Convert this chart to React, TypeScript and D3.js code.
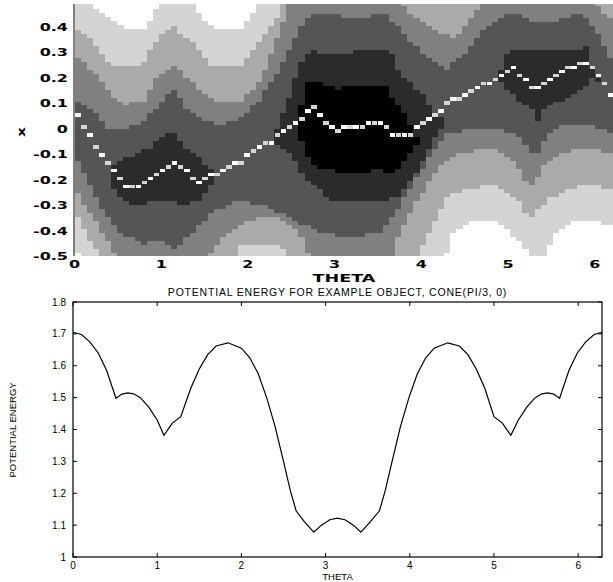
import React from "react";
import * as d3 from "d3";

const TWO_PI = Math.PI * 2;

// ---------- bottom chart data ----------
const PE_THETA = [0, 0.1, 0.2, 0.3, 0.4, 0.51, 0.58, 0.65, 0.72, 0.8, 0.9, 1.0, 1.08, 1.18, 1.28, 1.4, 1.5, 1.6, 1.7, 1.84, 2.0, 2.1, 2.2, 2.3, 2.4, 2.5, 2.58, 2.65, 2.75, 2.86, 2.95, 3.05, 3.14, 3.23, 3.33, 3.42, 3.53, 3.64, 3.71, 3.79, 3.89, 3.99, 4.09, 4.19, 4.29, 4.45, 4.59, 4.69, 4.79, 4.89, 5.0, 5.1, 5.2, 5.29, 5.39, 5.49, 5.57, 5.64, 5.71, 5.78, 5.89, 5.99, 6.09, 6.19, 6.283];
const PE_VALUE = [1.705, 1.698, 1.675, 1.64, 1.585, 1.498, 1.511, 1.515, 1.512, 1.5, 1.47, 1.43, 1.382, 1.42, 1.44, 1.53, 1.59, 1.635, 1.662, 1.672, 1.655, 1.625, 1.575, 1.5, 1.41, 1.3, 1.21, 1.145, 1.11, 1.078, 1.1, 1.117, 1.122, 1.117, 1.1, 1.078, 1.11, 1.145, 1.21, 1.3, 1.41, 1.5, 1.575, 1.625, 1.655, 1.672, 1.662, 1.635, 1.59, 1.53, 1.44, 1.42, 1.382, 1.43, 1.47, 1.5, 1.512, 1.515, 1.511, 1.498, 1.585, 1.64, 1.675, 1.698, 1.705];
const THETA_TICKS = [0, 1, 2, 3, 4, 5, 6];
const PE_TICKS = [1, 1.1, 1.2, 1.3, 1.4, 1.5, 1.6, 1.7, 1.8];
const PE_TICK_LABELS = ["1", "1.1", "1.2", "1.3", "1.4", "1.5", "1.6", "1.7", "1.8"];

// ---------- top chart data ----------
const X_TICKS = [0.4, 0.3, 0.2, 0.1, 0, -0.1, -0.2, -0.3, -0.4, -0.5];
const X_TICK_LABELS = ["0.4", "0.3", "0.2", "0.1", "0", "-0.1", "-0.2", "-0.3", "-0.4", "-0.5"];
const GRID_COLS = 90; // cells across theta
const GRID_ROWS = 64; // cells across x

// minimum-energy path: x of the marked cell in each theta column (0..89)
const PATH_X = [
  0.059, 0.012, -0.028, -0.067, -0.094, -0.126, -0.165, -0.197, -0.228, -0.228,
  -0.22, -0.212, -0.197, -0.185, -0.165, -0.145, -0.13, -0.145, -0.165, -0.189,
  -0.212, -0.193, -0.185, -0.173, -0.157, -0.145, -0.138, -0.126, -0.106, -0.09,
  -0.075, -0.059, -0.047, -0.028, -0.008, 0.004, 0.02, 0.039, 0.063, 0.079,
  0.051, 0.024, 0.004, -0.008, 0.004, 0.012, 0.012, 0.012, 0.02, 0.031,
  0.024, 0.004, -0.016, -0.028, -0.028, -0.016, 0.004, 0.024, 0.039, 0.059,
  0.075, 0.094, 0.114, 0.122, 0.138, 0.149, 0.157, 0.173, 0.185, 0.2,
  0.208, 0.22, 0.236, 0.212, 0.189, 0.169, 0.161, 0.181, 0.196, 0.208,
  0.22, 0.236, 0.248, 0.255, 0.255, 0.24, 0.212, 0.173, 0.138, 0.118,
];

// gray band regions: [theta, x] boundary points, level <= k
const R5_UP = [[0, 0.6], [0.17, 0.6], [0.18, 0.49], [0.3, 0.455], [0.45, 0.416], [0.6, 0.39], [0.8, 0.39], [0.9, 0.44], [0.97, 0.49], [0.98, 0.6], [1.36, 0.6], [1.37, 0.49], [1.5, 0.42], [1.62, 0.39], [1.9, 0.39], [2.0, 0.43], [2.12, 0.49], [2.13, 0.6], [6.3, 0.6]];
const R5_LO = [[0, -0.46], [0.05, -0.5], [0.06, -0.6], [4.2, -0.6], [4.28, -0.5], [4.33, -0.43], [4.41, -0.39], [4.48, -0.373], [4.56, -0.361], [4.9, -0.361], [4.99, -0.389], [5.1, -0.428], [5.2, -0.468], [5.22, -0.6], [5.44, -0.6], [5.46, -0.468], [5.57, -0.4], [5.68, -0.373], [5.8, -0.361], [6.06, -0.361], [6.14, -0.373], [6.21, -0.389], [6.3, -0.4]];
const R4_UP = [[0, 0.39], [0.15, 0.36], [0.3, 0.31], [0.42, 0.255], [0.52, 0.25], [0.76, 0.25], [0.84, 0.28], [0.9, 0.33], [1.02, 0.37], [1.14, 0.41], [1.25, 0.37], [1.37, 0.346], [1.48, 0.295], [1.56, 0.255], [1.64, 0.25], [1.91, 0.25], [1.99, 0.28], [2.1, 0.32], [2.17, 0.36], [2.25, 0.395], [2.37, 0.45], [2.4, 0.6], [6.3, 0.6]];
const R4_LO = [[0, -0.32], [0.15, -0.42], [0.3, -0.5], [0.31, -0.6], [1.85, -0.6], [1.87, -0.46], [2.0, -0.45], [2.3, -0.45], [2.45, -0.47], [2.46, -0.6], [3.9, -0.6], [3.95, -0.5], [4.1, -0.4], [4.2, -0.32], [4.33, -0.255], [4.56, -0.23], [4.71, -0.225], [4.9, -0.225], [5.1, -0.27], [5.2, -0.33], [5.24, -0.36], [5.3, -0.33], [5.45, -0.28], [5.68, -0.23], [5.86, -0.225], [6.06, -0.225], [6.3, -0.245]];
const R3_UP = [[0, 0.29], [0.15, 0.25], [0.3, 0.2], [0.45, 0.13], [0.6, 0.1], [0.8, 0.11], [0.95, 0.2], [1.14, 0.26], [1.3, 0.2], [1.5, 0.14], [1.65, 0.11], [1.9, 0.11], [2.05, 0.15], [2.15, 0.2], [2.25, 0.28], [2.35, 0.37], [2.45, 0.46], [2.5, 0.6], [3.7, 0.6], [3.75, 0.49], [4.0, 0.43], [4.2, 0.38], [4.4, 0.36], [4.55, 0.42], [4.7, 0.49], [4.72, 0.6], [6.0, 0.6], [6.02, 0.49], [6.15, 0.44], [6.3, 0.4]];
const R3_LO = [[0, -0.24], [0.2, -0.34], [0.4, -0.45], [0.5, -0.5], [0.51, -0.6], [1.52, -0.6], [1.53, -0.5], [1.7, -0.43], [1.83, -0.39], [2.14, -0.34], [2.4, -0.35], [2.6, -0.4], [2.7, -0.5], [2.71, -0.6], [3.6, -0.6], [3.7, -0.45], [3.85, -0.35], [4.0, -0.25], [4.2, -0.15], [4.33, -0.11], [4.6, -0.086], [4.9, -0.08], [5.1, -0.14], [5.25, -0.23], [5.4, -0.15], [5.6, -0.1], [5.8, -0.08], [6.03, -0.08], [6.18, -0.1], [6.3, -0.11]];
const R2_UP = [[0, 0.12], [0.2, 0.08], [0.4, 0.0], [0.6, 0.0], [0.8, 0.03], [1.0, 0.1], [1.14, 0.16], [1.3, 0.08], [1.5, 0.03], [1.7, 0.02], [1.9, 0.04], [2.1, 0.1], [2.3, 0.2], [2.5, 0.33], [2.7, 0.45], [2.9, 0.45], [3.2, 0.44], [3.6, 0.45], [3.75, 0.4], [3.9, 0.34], [4.1, 0.27], [4.3, 0.24], [4.5, 0.3], [4.7, 0.38], [4.9, 0.44], [5.05, 0.46], [5.3, 0.42], [5.6, 0.43], [5.85, 0.46], [6.0, 0.4], [6.15, 0.3], [6.3, 0.2]];
const R2_LO = [[0, -0.1], [0.3, -0.3], [0.5, -0.4], [0.8, -0.45], [1.0, -0.43], [1.15, -0.47], [1.3, -0.42], [1.6, -0.32], [1.9, -0.28], [2.2, -0.3], [2.5, -0.35], [2.8, -0.4], [3.1, -0.42], [3.5, -0.41], [3.7, -0.33], [3.9, -0.22], [4.1, -0.1], [4.3, -0.02], [4.6, 0.0], [4.9, 0.0], [5.1, -0.02], [5.3, -0.114], [5.5, 0.0], [5.8, 0.02], [6.1, 0.0], [6.3, -0.05]];
const R1A_UP = [[0.4, -0.17], [0.5, -0.12], [0.7, -0.1], [0.9, -0.07], [1.0, -0.03], [1.14, 0.0], [1.2, -0.04], [1.3, -0.08], [1.45, -0.12], [1.6, -0.16]];
const R1A_LO = [[0.4, -0.2], [0.5, -0.26], [0.7, -0.3], [0.9, -0.28], [1.14, -0.28], [1.3, -0.3], [1.45, -0.27], [1.6, -0.2]];
const R1B_UP = [[2.3, -0.02], [2.4, 0.05], [2.5, 0.15], [2.6, 0.25], [2.7, 0.31], [2.9, 0.3], [3.1, 0.29], [3.3, 0.32], [3.65, 0.32], [3.7, 0.24], [3.85, 0.19], [4.0, 0.14], [4.15, 0.07], [4.3, 0.03]];
const R1B_LO = [[2.3, -0.05], [2.5, -0.1], [2.65, -0.2], [2.8, -0.23], [2.95, -0.28], [3.4, -0.28], [3.6, -0.28], [3.75, -0.26], [3.9, -0.2], [4.05, -0.1], [4.2, -0.01], [4.3, 0.03]];
const R1C_UP = [[4.85, 0.2], [4.9, 0.22], [5.02, 0.314], [5.37, 0.314], [5.6, 0.306], [5.87, 0.318], [5.89, 0.346], [5.98, 0.24], [6.05, 0.19]];
const R1C_LO = [[4.85, 0.2], [4.9, 0.19], [5.1, 0.12], [5.29, 0.07], [5.34, 0.024], [5.41, 0.083], [5.6, 0.11], [5.87, 0.16], [5.98, 0.2], [6.05, 0.19]];
const R0_UP = [[2.6, 0.0], [2.62, 0.11], [2.65, 0.17], [2.72, 0.2], [2.85, 0.18], [3.0, 0.16], [3.2, 0.17], [3.6, 0.17], [3.68, 0.11], [3.8, 0.07], [3.9, 0.0], [3.97, -0.05]];
const R0_LO = [[2.6, 0.0], [2.62, -0.05], [2.7, -0.12], [2.8, -0.15], [3.0, -0.165], [3.4, -0.165], [3.5, -0.15], [3.7, -0.18], [3.8, -0.12], [3.97, -0.05]];

const BAND_COLORS = ["#000000", "#2b2b2b", "#555555", "#808080", "#aaaaaa", "#d4d4d4", "#ffffff"];
const PATH_COLORS = ["#ffffff", "#d6d6d6"];

const REGIONS = [
  { level: 0, up: R0_UP, lo: R0_LO },
  { level: 1, up: R1A_UP, lo: R1A_LO },
  { level: 1, up: R1B_UP, lo: R1B_LO },
  { level: 1, up: R1C_UP, lo: R1C_LO },
  { level: 2, up: R2_UP, lo: R2_LO },
  { level: 3, up: R3_UP, lo: R3_LO },
  { level: 4, up: R4_UP, lo: R4_LO },
  { level: 5, up: R5_UP, lo: R5_LO },
];

const W = 613;
const H = 582;

export default function App() {
  // top panel scales
  const tx = d3.scaleLinear().domain([0, TWO_PI]).range([74.5, 619.3]);
  const ty = d3.scaleLinear().domain([-0.5, 0.5]).range([256, 1.5]);
  // bottom panel scales
  const bx = d3.scaleLinear().domain([0, TWO_PI]).range([73, 602]);
  const by = d3.scaleLinear().domain([1, 1.8]).range([557, 302]);

  const dTheta = TWO_PI / GRID_COLS;
  const dX = 1 / GRID_ROWS;

  const polys = REGIONS.map((r) => ({
    level: r.level,
    poly: r.up.concat(r.lo.slice().reverse()).map((p) => [p[0], p[1]] as [number, number]),
  }));

  const cells: { c: number; r: number; level: number }[] = [];
  for (let c = 0; c < GRID_COLS; c++) {
    const th = (c + 0.5) * dTheta;
    for (let r = 0; r < GRID_ROWS; r++) {
      const xv = -0.5 + (r + 0.5) * dX;
      let level = 6;
      for (const p of polys) {
        if (p.level < level && d3.polygonContains(p.poly, [th, xv])) level = p.level;
      }
      if (level < 6) cells.push({ c, r, level });
    }
  }

  const cellRect = (c: number, r: number) => {
    const x0 = tx(c * dTheta);
    const x1 = tx((c + 1) * dTheta);
    const y0 = ty(-0.5 + (r + 1) * dX);
    const y1 = ty(-0.5 + r * dX);
    return { x: x0, y: y0, w: x1 - x0, h: y1 - y0 };
  };

  const peLine = d3
    .line<number>()
    .x((_, i) => bx(PE_THETA[i]))
    .y((d) => by(d));

  const boldFont = "'DejaVu Sans', Verdana, sans-serif";
  const sansFont = "'Liberation Sans', Arial, Helvetica, sans-serif";

  return (
    <svg width={W} height={H} style={{ position: "absolute", left: 0, top: 0, background: "#fff" }}>
      <defs>
        <clipPath id="topClip">
          <rect x={74} y={4} width={W - 74} height={252} />
        </clipPath>
      </defs>
      <rect x={0} y={0} width={W} height={H} fill="#fff" />

      {/* ---- top contour panel ---- */}
      <g clipPath="url(#topClip)" shapeRendering="crispEdges">
        {cells.map((cell, i) => {
          const b = cellRect(cell.c, cell.r);
          return (
            <rect
              key={i}
              x={b.x}
              y={b.y}
              width={b.w + 0.6}
              height={b.h + 0.6}
              fill={BAND_COLORS[cell.level]}
            />
          );
        })}
        {PATH_X.map((xv, c) => {
          const r = Math.floor((xv + 0.5) / dX);
          const b = cellRect(c, r);
          return (
            <rect
              key={"p" + c}
              x={b.x + 0.5}
              y={b.y + 0.5}
              width={b.w - 0.5}
              height={b.h - 0.5}
              fill={PATH_COLORS[c % 2]}
            />
          );
        })}
      </g>
      <line x1={74} x2={74} y1={4} y2={256} stroke="#000" strokeWidth={1} />
      {X_TICKS.map((v, i) => (
        <text
          key={"yt" + i}
          transform={`translate(68,${ty(v) + 4}) scale(1.6,1)`}
          textAnchor="end"
          fontFamily={boldFont}
          fontWeight="bold"
          fontSize={10}
          fill="#000"
        >
          {X_TICK_LABELS[i]}
        </text>
      ))}
      {THETA_TICKS.map((v) => (
        <text
          key={"xt" + v}
          transform={`translate(${tx(v)},${268}) scale(1.6,1)`}
          textAnchor="middle"
          fontFamily={boldFont}
          fontWeight="bold"
          fontSize={10}
          fill="#000"
        >
          {v}
        </text>
      ))}
      <text
        transform={`translate(344,282) scale(1.6,1)`}
        textAnchor="middle"
        fontFamily={boldFont}
        fontWeight="bold"
        fontSize={11}
        fill="#000"
      >
        THETA
      </text>
      <text
        transform={`translate(25,132) rotate(-90) scale(1.4,1)`}
        textAnchor="middle"
        fontFamily={boldFont}
        fontWeight="bold"
        fontSize={11}
        fill="#000"
      >
        x
      </text>

      {/* ---- bottom line panel ---- */}
      <text
        x={337.5}
        y={296}
        textAnchor="middle"
        fontFamily={sansFont}
        fontSize={10.5}
        letterSpacing={0.8}
        fill="#000"
      >
        POTENTIAL ENERGY FOR EXAMPLE OBJECT, CONE(PI/3, 0)
      </text>
      <rect x={73} y={302} width={529} height={255} fill="none" stroke="#000" strokeWidth={1.2} />
      {PE_TICKS.map((v, i) => (
        <g key={"pt" + i}>
          <line x1={73} x2={77} y1={by(v)} y2={by(v)} stroke="#000" />
          <line x1={598} x2={602} y1={by(v)} y2={by(v)} stroke="#000" />
          <text x={66} y={by(v) + 3.5} textAnchor="end" fontFamily={sansFont} fontSize={10} fill="#000">
            {PE_TICK_LABELS[i]}
          </text>
        </g>
      ))}
      {THETA_TICKS.map((v) => (
        <g key={"bt" + v}>
          <line x1={bx(v)} x2={bx(v)} y1={557} y2={553} stroke="#000" />
          <line x1={bx(v)} x2={bx(v)} y1={302} y2={306} stroke="#000" />
          <text x={bx(v)} y={569} textAnchor="middle" fontFamily={sansFont} fontSize={10} fill="#000">
            {v}
          </text>
        </g>
      ))}
      <text x={337.5} y={580} textAnchor="middle" fontFamily={sansFont} fontSize={9.5} fill="#000">
        THETA
      </text>
      <text
        transform={`translate(16,430) rotate(-90)`}
        textAnchor="middle"
        fontFamily={sansFont}
        fontSize={9.5}
        fill="#000"
      >
        POTENTIAL ENERGY
      </text>
      <path d={peLine(PE_VALUE) || ""} fill="none" stroke="#000" strokeWidth={1.2} />
    </svg>
  );
}
